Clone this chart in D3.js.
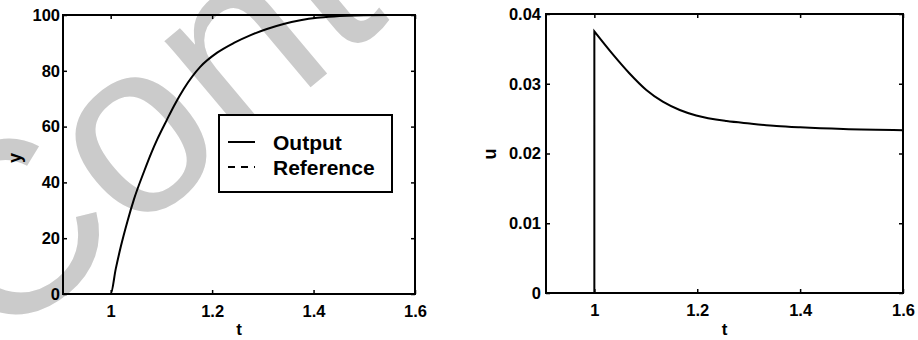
<!DOCTYPE html>
<html>
<head>
<meta charset="utf-8">
<script src="https://cdn.jsdelivr.net/npm/d3@7"></script>
<style>
  html, body { margin: 0; padding: 0; background: #fff; }
  svg { display: block; }
  .tick text { font-family: "Liberation Sans", Arial, sans-serif; font-weight: bold; fill: #000; }
</style>
</head>
<body>
<svg id="chart" width="918" height="340"></svg>
<script>
// ── Data ─────────────────────────────────────────────────────────
const outT = [0.906, 1.0, 1.01, 1.02, 1.033, 1.046, 1.066, 1.08, 1.092, 1.111, 1.125, 1.144, 1.177,
              1.21, 1.243, 1.276, 1.308, 1.341, 1.374, 1.407, 1.44, 1.5, 1.55, 1.6];
const outY = [0, 0, 9, 17, 26, 34, 44, 50.5, 55.5, 62.5, 67.5, 73.5, 81.5,
              86.5, 90, 92.8, 95, 96.8, 98.1, 99, 99.5, 99.9, 100, 100];

const refT = [0.906, 1.0, 1.0, 1.0, 1.6];
const refY = [0, 0, null, 100, 100];

const uT = [0.906, 1.0, 1.0, 1.036, 1.068, 1.101, 1.133, 1.166, 1.198, 1.257, 1.302, 1.354, 1.4, 1.484, 1.6];
const uY = [0, 0, 0.0375, 0.0342, 0.0315, 0.0291, 0.02743, 0.02624, 0.02545, 0.02465, 0.0243, 0.02395, 0.02375, 0.0235, 0.02335];

const xTicks = [1, 1.2, 1.4, 1.6];
const yTicksLeft = [0, 20, 40, 60, 80, 100];
const yTicksRight = [0, 0.01, 0.02, 0.03, 0.04];
const legendLabels = ['Output', 'Reference'];

const svg = d3.select('#chart');
const FONT = '"Liberation Sans", Arial, sans-serif';

// ── Watermark (behind everything) ────────────────────────────────
svg.append('text')
  .attr('transform', 'translate(-5,352) rotate(-40)')
  .attr('font-family', FONT)
  .attr('font-size', 245)
  .attr('fill', '#cbcbcb')
  .text('Content');

// split a series where t repeats (vertical jumps) so each piece can be smoothed
function pieces(ts, vs) {
  const out = [[]];
  ts.forEach((t, i) => {
    const cur = out[out.length - 1];
    if (cur.length && cur[cur.length - 1][0] === t) out.push([]);
    out[out.length - 1].push([t, vs[i]]);
  });
  return out;
}

// ── Panel helper ─────────────────────────────────────────────────
function drawPanel(opts) {
  const { left, right, top, bottom } = opts.box;
  const x = d3.scaleLinear().domain([0.906, 1.6]).range([left, right]);
  const y = d3.scaleLinear().domain(opts.yDomain).range([bottom, top]);
  const g = svg.append('g');

  // ticks inside on all four sides
  const axes = [
    { ax: d3.axisBottom(x).tickValues(xTicks).tickFormat(d3.format('')), t: `translate(0,${bottom})`, labels: true, pad: 11 },
    { ax: d3.axisTop(x).tickValues(xTicks), t: `translate(0,${top})`, labels: false },
    { ax: d3.axisLeft(y).tickValues(opts.yTicks).tickFormat(opts.fmtY), t: `translate(${left},0)`, labels: true, pad: opts.yPad },
    { ax: d3.axisRight(y).tickValues(opts.yTicks), t: `translate(${right},0)`, labels: false }
  ];
  axes.forEach(a => {
    a.ax.tickSizeInner(-4).tickSizeOuter(0).tickPadding(a.pad || 0);
    const ag = g.append('g').attr('transform', a.t).call(a.ax);
    ag.select('.domain').remove();
    ag.selectAll('.tick line').attr('stroke', '#000').attr('stroke-width', 1.5);
    if (a.labels) {
      ag.selectAll('.tick text').attr('font-size', '16.5px');
    } else {
      ag.selectAll('.tick text').remove();
    }
  });

  // frame
  g.append('rect')
    .attr('x', left).attr('y', top)
    .attr('width', right - left).attr('height', bottom - top)
    .attr('fill', 'none').attr('stroke', '#000').attr('stroke-width', 2);

  const smooth = d3.line().curve(d3.curveMonotoneX)
    .x(d => x(d[0])).y(d => y(d[1]));
  const straight = d3.line()
    .defined(d => d[1] != null)
    .x(d => x(d[0])).y(d => y(d[1]));

  opts.series.forEach(s => {
    let d;
    if (s.dash) {
      d = straight(s.t.map((t, i) => [t, s.v[i]]));
    } else {
      const ps = pieces(s.t, s.v);
      // join pieces with straight vertical jumps
      d = ps.map((p, i) => {
        const seg = smooth(p);
        return i === 0 ? seg : 'L' + seg.slice(1);
      }).join('');
    }
    g.append('path')
      .attr('d', d)
      .attr('fill', 'none')
      .attr('stroke', '#000')
      .attr('stroke-width', 2)
      .attr('stroke-dasharray', s.dash || null);
  });

  // axis labels
  g.append('text')
    .attr('x', (left + right) / 2).attr('y', 335)
    .attr('text-anchor', 'middle')
    .attr('font-family', FONT).attr('font-weight', 'bold').attr('font-size', 17)
    .text('t');
  g.append('text')
    .attr('transform', `translate(${opts.yLabelX},${opts.yLabelY}) rotate(-90)`)
    .attr('text-anchor', 'middle')
    .attr('dy', '0.35em')
    .attr('font-family', FONT).attr('font-weight', 'bold').attr('font-size', 18)
    .text(opts.yLabel);

  return { g, x, y };
}

drawPanel({
  box: { left: 63, right: 415, top: 15, bottom: 294 },
  yDomain: [0, 100],
  yTicks: yTicksLeft,
  fmtY: d3.format('d'),
  yPad: 3,
  yLabel: 'y', yLabelX: 15, yLabelY: 158,
  series: [
    { t: outT, v: outY },
    { t: refT, v: refY, dash: '7,6' }
  ]
});

drawPanel({
  box: { left: 546, right: 903, top: 14, bottom: 293 },
  yDomain: [0, 0.04],
  yTicks: yTicksRight,
  fmtY: d => d === 0 ? '0' : d3.format('.2f')(d),
  yPad: 5,
  yLabel: 'u', yLabelX: 490, yLabelY: 154,
  series: [
    { t: uT, v: uY }
  ]
});

// ── Legend ───────────────────────────────────────────────────────
const legend = svg.append('g');
legend.append('rect')
  .attr('x', 219).attr('y', 115).attr('width', 173).attr('height', 77)
  .attr('fill', '#fff').attr('stroke', '#000').attr('stroke-width', 2);
legendLabels.forEach((lab, i) => {
  const ly = 142 + i * 25;
  legend.append('line')
    .attr('x1', 228).attr('x2', 255).attr('y1', ly).attr('y2', ly)
    .attr('stroke', '#000').attr('stroke-width', 2)
    .attr('stroke-dasharray', i === 1 ? '7,6' : null);
  legend.append('text')
    .attr('x', 273).attr('y', ly + 7.5)
    .attr('font-family', FONT).attr('font-weight', 'bold').attr('font-size', 21)
    .text(lab);
});
</script>
</body>
</html>
